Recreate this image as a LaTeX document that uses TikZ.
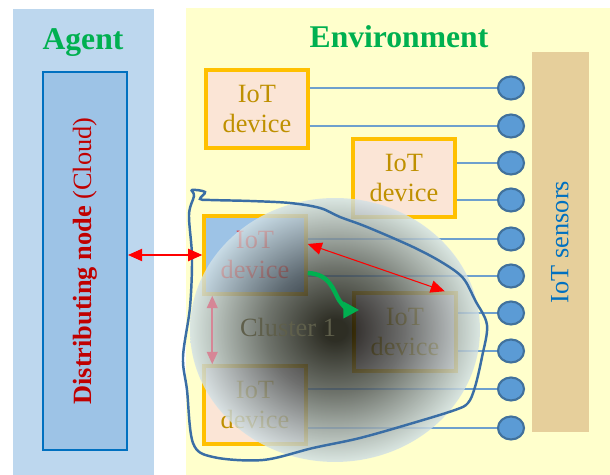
\documentclass[tikz,border=0pt]{standalone}
\usepackage{fontspec}
\setmainfont{Liberation Serif}
\usetikzlibrary{arrows.meta,shapes.geometric}

\definecolor{agentbg}{RGB}{189,215,238}
\definecolor{envbg}{RGB}{255,255,204}
\definecolor{titlegreen}{RGB}{0,176,80}
\definecolor{cloudfill}{RGB}{157,195,230}
\definecolor{cloudline}{RGB}{0,112,192}
\definecolor{darkred}{RGB}{192,0,0}
\definecolor{devline}{RGB}{255,192,0}
\definecolor{devfill}{RGB}{251,229,214}
\definecolor{devtext}{RGB}{191,144,0}
\definecolor{sensfill}{RGB}{91,155,213}
\definecolor{sensline}{RGB}{65,113,156}
\definecolor{wireblue}{RGB}{110,160,205}
\definecolor{strip}{RGB}{230,207,155}
\definecolor{hazeout}{RGB}{210,225,230}
\definecolor{loopline}{RGB}{58,110,165}
\definecolor{pinkarrow}{RGB}{214,134,150}
\definecolor{clutext}{RGB}{95,95,75}

\pgfdeclareradialshading{clusterhaze}{\pgfpoint{0bp}{0bp}}{%
  color(0bp)=(black); color(2bp)=(black);
  color(12bp)=(black!62!hazeout); color(25bp)=(hazeout); color(50bp)=(hazeout)}

\begin{document}
\begin{tikzpicture}[
  x=0.02cm, y=-0.02cm,
  title/.style={font=\fontsize{18}{20}\selectfont\bfseries, text=titlegreen, anchor=base},
  device/.style={rectangle, draw=devline, line width=2pt, fill=devfill, text=devtext,
    minimum width=2.04cm, minimum height=1.56cm, inner sep=0pt, align=center,
    font=\fontsize{15}{17.5}\selectfont},
  sensor/.style={ellipse, draw=sensline, line width=1.2pt, fill=sensfill,
    minimum width=0.52cm, minimum height=0.46cm, inner sep=0pt},
  wire/.style={wireblue, line width=0.8pt},
  redarr/.style={red, line width=0.6pt, {Triangle[length=8pt,width=7pt]}-{Triangle[length=8pt,width=7pt]}},
  pinkarr/.style={pinkarrow, line width=1.2pt, {Triangle[length=7pt,width=6pt]}-{Triangle[length=7pt,width=6pt]}},
  greenarr/.style={titlegreen, line width=2.5pt, -{Triangle[length=9pt,width=9pt]}},
  outline/.style={loopline, line width=1.4pt}
]
  \useasboundingbox (0,0) rectangle (610,475);

  % panels
  \fill[envbg] (186,8) rectangle (610,475);
  \fill[agentbg] (13,9) rectangle (154,475);
  \node[title] (agent) at (83,50) {Agent};
  \node[title] (env) at (399,48) {Environment};

  % cloud
  \node[rectangle, draw=cloudline, line width=1.2pt, fill=cloudfill,
    minimum width=1.68cm, minimum height=7.56cm] (dist) at (85,261) {};
  \node[rotate=90, text=darkred, font=\fontsize{15}{17}\selectfont] (distlbl) at (dist)
    {\textbf{Distributing node} (Cloud)};

  % sensors
  \fill[strip] (532,52) rectangle (589,432);
  \node[rotate=90, text=cloudline, font=\fontsize{15}{17}\selectfont] (senslbl) at (560,242) {IoT sensors};
  \foreach \i/\y in {1/88,2/126,3/163,4/200,5/239,6/276,7/313,8/351,9/389,10/428}
    \node[sensor] (s\i) at (511,\y) {};

  % devices
  \node[device] (devA) at (257,109) {IoT\\device};
  \node[device] (devB) at (404,178) {IoT\\device};
  \node[device, fill=cloudfill, text=red] (devC) at (255,255) {IoT\\device};
  \node[device] (devD) at (405,332) {IoT\\device};
  \node[device] (devE) at (255,405) {IoT\\device};

  \foreach \d/\a/\b in {devA/1/2, devB/3/4, devC/5/6, devD/7/8, devE/9/10} {
    \draw[wire] (\d.east |- s\a) -- (s\a.west);
    \draw[wire] (\d.east |- s\b) -- (s\b.west);
  }

  % cluster
  \shade[shading=clusterhaze, opacity=0.82]
    (335,330) ellipse [x radius=2.9cm, y radius=2.64cm];
  \draw[outline] plot[smooth cycle, tension=0.55] coordinates {
    (210,200) (250,201) (290,203) (320,208) (340,217) (367,227) (413,247)
    (443,263) (463,278) (475,300) (487,325) (482,357) (475,387) (468,403)
    (455,410) (413,423) (360,438) (313,448) (263,460) (213,457) (193,443)
    (187,390) (183,357) (190,307) (192,257) (189,215) (194,196) (192,190)
    (205,192) (200,199)};
  \node[anchor=base, text=clutext, font=\fontsize{15}{17}\selectfont] (clu) at (288,337) {Cluster 1};

  % links
  \draw[pinkarr] ([xshift=0.2cm]devC.south west) -- ([xshift=0.2cm]devE.north west);
  \draw[redarr] (dist.east |- devC.west) -- (devC.west);
  \draw[redarr] ([yshift=0.22cm]devC.east) -- ([xshift=-0.26cm]devD.north east);
  \coordinate (ga) at ([yshift=-0.36cm]devC.east);
  \coordinate (gb) at ([xshift=0.14cm,yshift=0.44cm]devD.west);
  \draw[greenarr] (ga) .. controls (330,274) and (333,290) .. (339,300)
    .. controls (345,309) and (350,310) .. (gb);
\end{tikzpicture}
\end{document}
